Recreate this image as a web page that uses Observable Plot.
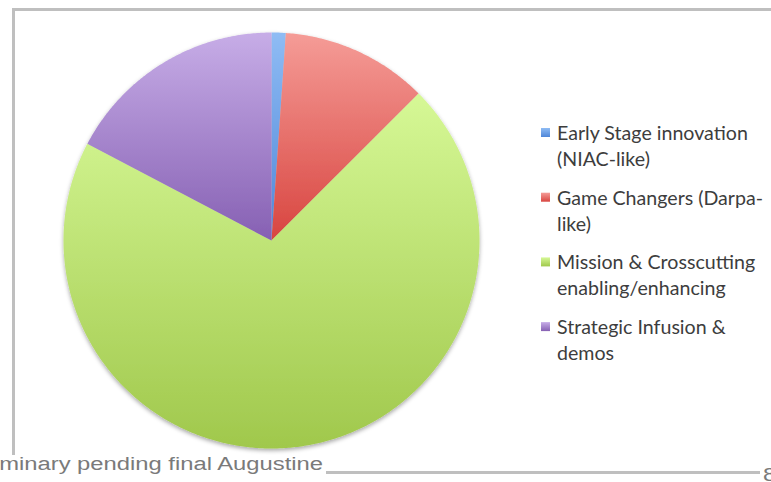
<!DOCTYPE html>
<html><head><meta charset="utf-8">
<script src="https://cdn.jsdelivr.net/npm/d3@7"></script>
<script src="https://cdn.jsdelivr.net/npm/@observablehq/plot@0.6"></script>
<style>
body{margin:0;background:#fff}
#chart{position:relative;width:771px;height:482px;overflow:hidden}
</style>
</head><body><div id="chart"></div>
<script>
// ---- data ----
const categories = ["Early Stage innovation (NIAC-like)", "Game Changers (Darpa-like)", "Mission & Crosscutting enabling/enhancing", "Strategic Infusion & demos"];
const legendLines = [["Early Stage innovation", "(NIAC-like)"], ["Game Changers (Darpa-", "like)"], ["Mission & Crosscutting", "enabling/enhancing"], ["Strategic Infusion &", "demos"]];
const shares = [1.1, 11.4, 70.2, 17.3];
const gradTop = ["#8fbcf4", "#f59c97", "#d6f896", "#c7ade7"];
const gradBottom = ["#4f86d8", "#d84540", "#a0c84c", "#8660b3"];
const footerText = "Preliminary pending final Augustine";
const footerVisible = "minary pending final Augustine";
const pageNumber = "8";

// ---- layout ----
const W = 771, H = 482, R = 208, cx = 271, cy = 240;
const mL = 13, mT = 9, mB = 10, mR = 0;

const arcs = d3.pie().sort(null).value(d => d)(shares);
const slices = arcs.map((a, i) => {
  const n = Math.max(2, Math.ceil((a.endAngle - a.startAngle) / (Math.PI / 360)));
  const pts = [{x: 0, y: 0}];
  for (let j = 0; j <= n; j++) {
    const t = a.startAngle + (a.endAngle - a.startAngle) * j / n;
    pts.push({x: Math.sin(t), y: Math.cos(t)});
  }
  pts.push({x: 0, y: 0});
  return {name: categories[i], pts};
});

const frameStyle = {stroke: "#bfbfbf", strokeWidth: 3};
const svg = Plot.plot({
  width: W, height: H,
  marginLeft: mL, marginTop: mT, marginBottom: mB, marginRight: mR,
  x: {domain: [(mL - cx) / R, (W - mR - cx) / R], axis: null},
  y: {domain: [-(H - mB - cy) / R, (cy - mT) / R], axis: null},
  style: {background: "#fff"},
  marks: [
    ...slices.map((s, i) => Plot.line(s.pts, {x: "x", y: "y", fill: `url(#g${i})`, stroke: "none", curve: "linear"})),
    Plot.frame({anchor: "top", ...frameStyle}),
    Plot.frame({anchor: "left", ...frameStyle}),
    Plot.frame({anchor: "bottom", ...frameStyle})
  ]
});
document.getElementById("chart").appendChild(svg);

const s = d3.select(svg);
const defs = s.insert("defs", ":first-child");
gradTop.forEach((c, i) => {
  const g = defs.append("linearGradient").attr("id", "g" + i).attr("x1", 0).attr("y1", 0).attr("x2", 0).attr("y2", 1);
  g.append("stop").attr("offset", "0%").attr("stop-color", c);
  g.append("stop").attr("offset", "100%").attr("stop-color", gradBottom[i]);
});
const f = defs.append("filter").attr("id", "shadow").attr("x", "-10%").attr("y", "-10%").attr("width", "120%").attr("height", "125%");
f.append("feDropShadow").attr("dx", 0).attr("dy", 2).attr("stdDeviation", 2).attr("flood-color", "#000").attr("flood-opacity", 0.35);

// group the pie slices under a shadow
const lineGroups = svg.querySelectorAll('g[aria-label="line"]');
const pieG = s.insert("g", 'g[aria-label="line"]').attr("filter", "url(#shadow)");
lineGroups.forEach(g => pieG.node().appendChild(g));

// legend
const legendFont = "Lato, 'Open Sans', sans-serif";
const probe = s.append("text").attr("font-family", legendFont).attr("font-size", 21).text(legendLines[0][0]);
const fs = Math.min(21, 21 * 191 / probe.node().getComputedTextLength());
probe.remove();
const lg = s.append("g").attr("font-family", legendFont).attr("font-size", fs).attr("fill", "#3d3d3d").attr("text-anchor", "start");
legendLines.forEach((lines, i) => {
  const base = 140 + i * 64.7;
  lg.append("rect").attr("x", 541).attr("y", base - 12).attr("width", 9).attr("height", 9).attr("fill", `url(#g${i})`);
  lines.forEach((t, j) => lg.append("text").attr("x", 557).attr("y", base + j * 26).text(t));
});

// footer
const footFont = "'Liberation Sans', Arial, sans-serif";
const probe2 = s.append("text").attr("font-family", footFont).attr("font-size", 19).text(footerVisible);
const sx = 324 / probe2.node().getComputedTextLength();
probe2.remove();
s.append("rect").attr("x", 0).attr("y", 455).attr("width", 326).attr("height", 27).attr("fill", "#fff");
s.append("text").attr("transform", `translate(323,470) scale(${sx},1)`).attr("text-anchor", "end")
  .attr("font-family", footFont).attr("font-size", 19).attr("fill", "#7a7a7a").text(footerText);
s.append("rect").attr("x", 760).attr("y", 463).attr("width", 11).attr("height", 19).attr("fill", "#fff");
s.append("text").attr("transform", `translate(763,481) scale(${sx},1)`).attr("text-anchor", "start")
  .attr("font-family", footFont).attr("font-size", 19).attr("fill", "#7a7a7a").text(pageNumber);
</script>
</body></html>
